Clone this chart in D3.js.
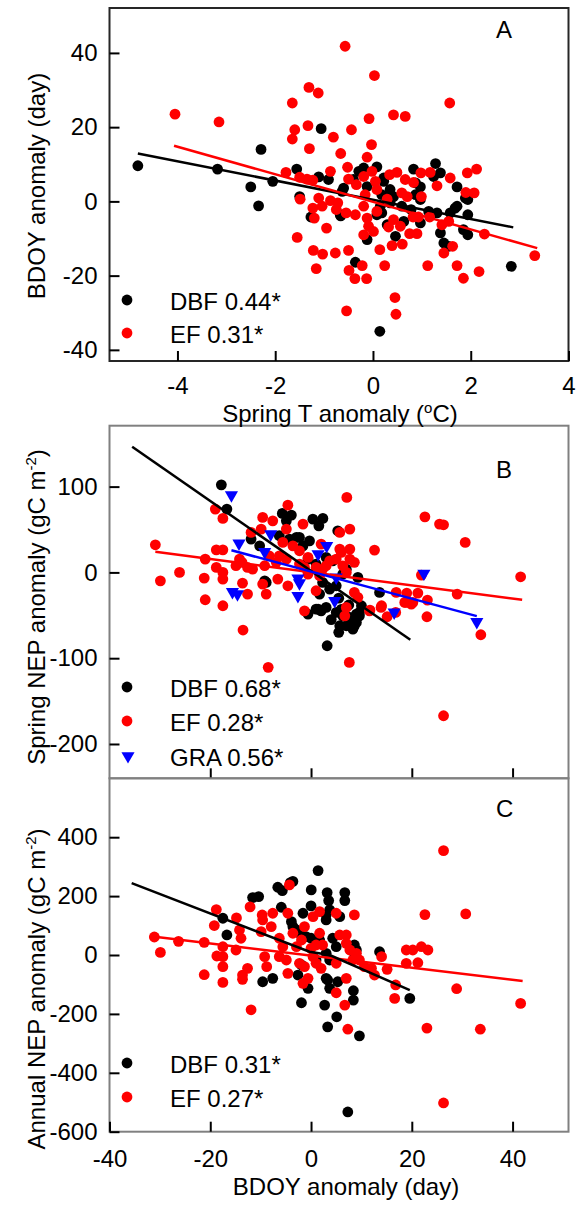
<!DOCTYPE html>
<meta charset="utf-8">
<style>
body { margin: 0; background: #fff; }
svg text { font-family: "Liberation Sans", Arial, sans-serif; font-size: 24px; fill: #000; }
.frame { fill: none; stroke: #808080; stroke-width: 2px; }
.axis path { display: none; }
.axis line { stroke: #000; stroke-width: 2px; }
.axis text { font-family: "Liberation Sans", Arial, sans-serif; font-size: 24px; }
.fit { fill: none; stroke-width: 2.5px; }
</style>
<body>
<svg width="576" height="1207"></svg>

<script src="https://cdnjs.cloudflare.com/ajax/libs/d3/7.8.5/d3.min.js"></script>
<script>

// ---- panel A : BDOY anomaly vs spring T anomaly ----
var aDbf = [[-4.81,9.6],[-3.18,8.7],[-2.29,14.0],[-2.50,3.9],[-2.34,-1.2],[-2.05,5.4],[-1.06,19.6],[-1.56,8.7],
  [-1.50,1.3],[-1.27,-4.2],[-1.11,6.6],[-0.91,5.9],[-0.67,-3.6],[-0.60,3.6],[-0.29,8.1],[-0.19,9.0],[0.08,9.3],
  [-0.40,5.9],[-0.12,4.0],[0.22,5.4],[0.35,3.2],[0.42,1.3],[0.18,1.8],[0.15,-1.3],[0.35,-0.4],[0.59,-1.3],
  [0.78,-2.2],[0.87,1.8],[0.83,8.7],[1.28,10.2],[1.24,6.7],[0.97,-5.8],[1.14,-2.7],[1.38,-8.5],[1.45,-11.2],
  [1.55,-12.1],[1.72,3.9],[1.72,-1.3],[1.58,-3.1],[1.94,0.5],[1.94,-3.6],[1.94,-9.0],[2.83,-17.5],[0.14,-35.0],
  [-0.36,-16.4],[0.46,-9.4],[-0.12,-10.3],[0.08,-3.6],[0.63,-5.4],[0.97,3.9],[-0.63,2.7],[-0.66,-3.9],[0.22,6.3],
  [0.18,-3.1],[0.29,-6.3],[0.87,5.0],[0.97,0.5],[1.38,7.7],[1.31,-3.1],[1.68,-1.8],[1.89,0.9],[1.85,-7.6]];
var aEf = [[-0.57,41.8],[0.03,33.9],[-1.31,30.7],[-1.12,29.2],[-1.65,26.5],[-4.05,23.5],[-3.15,21.4],[-1.60,19.3],
  [-1.65,16.8],[-1.33,20.4],[-1.30,14.2],[-0.81,17.3],[-0.44,19.3],[-0.08,22.3],[0.42,23.3],[-0.66,12.9],
  [-0.03,15.3],[-0.12,11.9],[-0.52,9.2],[-1.78,7.8],[-0.87,8.1],[0.66,22.9],[1.57,26.5],[2.12,8.7],[1.93,7.7],
  [1.58,6.3],[1.31,4.2],[0.98,7.7],[1.17,7.8],[1.90,2.4],[0.99,1.3],[2.28,-8.8],[3.31,-14.6],[1.63,-12.1],
  [1.45,-13.9],[1.72,-17.3],[1.85,-20.7],[2.17,-18.9],[1.12,-17.3],[0.45,-25.9],[0.47,-30.4],[-0.54,-29.5],
  [0.24,-17.3],[-0.22,-17.3],[-0.49,-18.6],[-0.37,-20.8],[-0.13,-20.8],[0.14,-13.0],[-0.50,-13.2],[-0.77,-13.9],
  [-1.03,-14.2],[-1.22,-13.2],[-1.16,-18.1],[-1.55,-9.7],[-0.95,-7.2],[0.39,-11.9],[0.60,-11.5],[2.07,2.3],
  [-1.50,6.5],[-1.35,6.0],[-1.23,5.7],[-1.49,0.6],[-1.11,0.9],[-1.04,-1.3],[-1.23,-1.8],[-1.20,-4.5],[-0.87,0.2],
  [-0.72,-0.4],[-0.75,-2.2],[-0.55,-3.1],[-0.36,-3.6],[-0.50,6.0],[-0.34,4.5],[-0.19,6.7],[-0.02,8.1],[0.05,5.4],
  [0.08,3.2],[-0.16,1.8],[-0.19,-1.3],[-0.12,-4.5],[0.08,-2.7],[-0.09,-6.7],[-0.19,-9.0],[0.01,-8.1],[0.32,-6.9],
  [0.34,7.2],[0.49,7.8],[0.66,5.9],[0.83,5.1],[0.59,2.3],[0.70,1.3],[0.29,0.6],[0.42,-4.9],[0.56,-6.7],[0.82,-4.2],
  [0.93,-4.2],[0.75,-8.7],[0.90,-8.7],[1.16,-4.2],[1.41,-6.3],[1.55,-5.4]];
var aFitDbf = [[-4.81,12.9],[2.87,-7.0]];
var aFitEf = [[-4.07,15.0],[3.36,-12.6]];
var aYTicks = [-40,-20,0,20,40];
var aXTicks = [-4,-2,0,2,4];

// ---- panel B : spring NEP anomaly vs BDOY anomaly ----
var bDbf = [[-17.8,102.1],[-16.7,73.8],[3.2,-85.5],[-5.7,68.8],[-3.9,66.8],[0.36,62.1],[2.35,62.9],[1.55,54.3],
  [5.3,48.5],[-11.9,38.8],[-10.2,31.0],[-9.2,-9.8],[-6.3,42.7],[-4.3,38.8],[-2.9,40.8],[-1.6,31.0],[-0.3,36.8],
  [3.0,17.5],[4.3,13.5],[6.3,-2.0],[7.0,3.8],[9.3,-5.8],[13.6,-23.3],[2.3,-11.7],[3.7,-19.5],[5.0,-15.6],
  [1.7,-25.3],[1.0,-42.8],[2.0,-44.8],[3.0,-40.8],[-0.6,-48.6],[5.0,-46.6],[6.3,-50.6],[7.7,-52.4],[9.0,-48.6],
  [5.7,-62.2],[7.0,-62.2],[8.6,-62.2],[5.5,-69.9],[8.3,-54.4],[9.6,-50.6],[10.0,-38.9],[8.4,-64],[-0.6,15.5],
  [1.0,9.7],[-4.9,60.1],[-2.3,40.8],[-8.9,-11.7],[1.4,-42.8],[8.3,-66.1],[9.0,-58.3],[9.6,-46.6],[5.5,-30],
  [7.5,-38],[6.0,-43],[4.0,-55]];
var bEf = [[-30.9,32.2],[-29.9,-9.8],[-26.1,0],[-21.0,15.5],[-21.2,-6.6],[-21.0,-31.9],[-19.0,73.8],[-17.5,62.9],
  [-17.5,-38.9],[-13.5,-67.2],[-8.5,-110.7],[7.1,87.4],[7.6,-104.9],[12.6,26.0],[22.6,64.8],[26.3,55.5],[30.6,35.0],
  [41.6,-5.1],[33.7,-72.7],[26.3,-167.1],[29.0,-25.3],[23.1,-32.3],[23.0,-51.7],[21.9,-3.1],[21.2,-24.1],
  [19.0,-24.1],[16.9,-23.3],[18.8,-35.0],[20.2,-35.0],[13.9,-40.8],[15.1,-51.7],[16.8,-46.6],[11.7,-43.9],
  [-4.6,78.4],[-9.6,64.1],[-7.6,60.1],[-1.6,56.3],[-4.9,50.5],[-9.9,50.5],[-11.9,46.6],[5.7,46.6],[7.7,50.5],
  [7.7,27.2],[5.7,27.2],[-18.8,26.3],[-17.5,26.3],[-18.8,5.8],[-17.5,0],[-17.5,-7.8],[-13.6,-12.5],[-12.6,-25.3],
  [-14.9,7.8],[-14.2,15.5],[-12.6,5.8],[-11.6,3.8],[-9.6,-13.6],[-8.9,-25.3],[-9.2,7.8],[-6.9,11.7],[-8.3,19.3],
  [-6.6,-7.8],[-4.6,-15.6],[-5.6,35.0],[-3.6,31.0],[-2.3,25.2],[-6.3,19.3],[-4.9,15.5],[-0.6,17.5],[-1.3,5.8],
  [1.0,5.8],[2.3,3.8],[1.0,-21.4],[-1.3,-44.8],[2.0,33.0],[3.7,13.5],[5.0,15.5],[6.0,23.3],[7.7,15.5],[8.6,11.7],
  [6.3,7.7],[7.0,0],[7.0,-40.8],[6.7,-50.6],[8.6,-23.3],[9.3,-29.1],[11.6,-44.8],[14.0,-38.9],[18.6,-35],
  [19.9,-36.9],[25.5,56.3],[-2.3,9.7],[-0.6,-2.0],[1.7,-3.9],[3.0,7.7],[-13.7,11.7]];
var bGra = [[-15.8,90.1],[-14.3,33.8],[-8.0,44.6],[-9.2,24.0],[-15.6,-22.6],[-14.6,-25.3],[3.1,31.0],[1.4,21.3],
  [-2.6,-7.0],[-2.3,-12.5],[-2.6,-27.3],[4.7,-33.1],[5.0,-5.8],[16.5,-46.6],[22.4,-1.2],[32.9,-57.6]];
var bFitDbf = [[-35.5,146.4],[19.7,-78.6]];
var bFitEf = [[-30.9,24.0],[41.9,-31.9]];
var bFitGra = [[-15.8,25.8],[32.9,-51.0]];
var bYTicks = [-200,-100,0,100];
var bXTicks = [-20,0,20,40];

// ---- panel C : annual NEP anomaly vs BDOY anomaly ----
var cDbf = [[1.4,286.7],[-4.1,246],[-3.6,250],[-6.6,230],[-5.7,218.7],[-11.6,195],[-10.4,198.4],[0.04,221],[3.2,212],
  [3.5,184.7],[6.7,212],[6.7,184.7],[0,166.7],[-5.9,162.2],[-1.6,141.8],[3.0,136],[3.7,153],[5.7,130.3],
  [-17.5,124.8],[-16.7,68],[-3.9,113.3],[-3.6,96.3],[-2.3,73.8],[-1.0,62.2],[8.6,34],[13.6,11.2],[-9.6,-90.8],
  [-7.6,-79.3],[-2.6,-68],[-0.6,-113.3],[3.3,-85],[3.7,-113.3],[-1.9,-162.2],[2.7,-170],[5.1,-209.8],[3.3,-243.9],
  [8.4,-121.4],[8.4,-153],[19.6,-147.3],[8.6,5.8],[7.3,-533],[9.6,-274.5],[3.0,119],[-2.9,85],[0,56.8],[1.7,51],
  [4.3,56.8],[5.0,28.2],[9.0,17],[3.0,5.8],[3.7,-17],[1.0,-17],[-1.9,-34],[3.0,-79.3],[5.3,-90.8]];
var cEf = [[26.3,354.4],[22.6,137.1],[30.7,139.5],[-31.1,61.2],[-29.9,8.8],[-26.3,46.3],[-21.2,42.9],[-21.2,-66.9],
  [-17.5,-93.1],[-11.9,-186],[-18.8,154.4],[-19.2,100],[-14.8,126],[-12.1,163.4],[28.9,-114.5],[33.6,-252],
  [23.0,-248.3],[7.3,-252],[6.7,-170],[16.6,-147.3],[5.0,-128.2],[18.9,17],[20.2,17],[21.9,28.2],[23.2,17],
  [18.9,-28.3],[21.2,-26.2],[14.0,-5.7],[15.1,-48.6],[16.8,-101.7],[12.6,-68],[8.6,136.1],[26.3,-502.4],[41.6,-164.3],
  [-17.5,28.2],[-17.5,-5.7],[-17.5,-39.7],[-18.7,-3.4],[-14.2,85],[-13.9,56.8],[-14.9,17],[-12.6,-45.2],[-13.6,-68],
  [-13.6,-82.7],[-9.7,136],[-9.6,119],[-9.9,79.3],[-9.2,-5.7],[-8.8,-39.7],[-7.9,96.3],[-7.6,141.8],[-6.3,56.8],
  [-5.6,28.2],[-4.6,141.8],[-4.3,238],[-6.3,-5.7],[-4.9,-17],[-4.6,-62.2],[-2.9,28.2],[-1.9,51],[-3.6,73.8],
  [-2.3,-28.2],[-1.3,-39.7],[-1.3,96.3],[0.4,130.3],[0,22.7],[0.4,-5.7],[-1.6,-96.3],[-0.6,-79.3],[1.7,147.3],
  [1.7,73.8],[1.0,34],[2.3,34],[1.0,-28.2],[2.0,-45.2],[5.0,141.8],[5.7,68],[7.0,68],[7.0,39.7],[5.0,-28.2],
  [7.7,17],[9.0,5.7],[8.3,-17],[9.6,-17],[10.6,-39.7],[12.0,-45.2],[7.0,-79.3]];
var cFitDbf = [[-35.6,244],[-0.3,11],[3.7,0],[19.6,-119]];
var cFitEf = [[-31,62],[42,-88]];
var cYTicks = [-600,-400,-200,0,200,400];
var cXTicks = [-40,-20,0,20,40];

var black = "#000000", red = "#ff0000", blue = "#0000ff";
var left = 109.5, right = 568.5;
var fmt = function(d) { return String(d); };

var svg = d3.select("svg");

function drawPanel(p) {
  var x = d3.scaleLinear().domain(p.xDomain).range([left, right]);
  var y = d3.scaleLinear().domain(p.yDomain).range([p.bottom, p.top]);
  var g = svg.append("g");

  g.append("rect")
    .attr("class", "frame")
    .style("stroke", p.frameColor)
    .attr("x", left).attr("y", p.top)
    .attr("width", right - left).attr("height", p.bottom - p.top);

  g.append("g")
    .attr("class", "axis")
    .attr("transform", "translate(" + left + ",0)")
    .call(d3.axisLeft(y).tickValues(p.yTicks).tickSize(-10).tickPadding(12).tickFormat(fmt));

  g.append("g")
    .attr("class", "axis")
    .attr("transform", "translate(0," + p.bottom + ")")
    .call(d3.axisBottom(x).tickValues(p.xTicks).tickSize(-10).tickPadding(p.xPad)
      .tickFormat(p.xLabels ? fmt : function() { return ""; }));

  // points
  p.series.forEach(function(s) {
    if (s.shape === "tri") {
      g.selectAll(null).data(s.data).enter()
        .append("path")
        .attr("d", d3.symbol(d3.symbolTriangle, 75))
        .attr("transform", function(d) { return "translate(" + x(d[0]) + "," + y(d[1]) + ") rotate(180)"; })
        .attr("fill", s.color);
    } else {
      g.selectAll(null).data(s.data).enter()
        .append("circle")
        .attr("cx", function(d) { return x(d[0]); })
        .attr("cy", function(d) { return y(d[1]); })
        .attr("r", 5.4)
        .attr("fill", s.color);
    }
  });

  // fitted lines
  var line = d3.line().x(function(d) { return x(d[0]); }).y(function(d) { return y(d[1]); });
  p.fits.forEach(function(f) {
    g.append("path").datum(f.data)
      .attr("class", "fit")
      .attr("stroke", f.color)
      .attr("d", line);
  });

  // legend
  p.legend.forEach(function(l) {
    if (l.shape === "tri") {
      g.append("path")
        .attr("d", d3.symbol(d3.symbolTriangle, 75))
        .attr("transform", "translate(128," + l.y + ") rotate(180)")
        .attr("fill", l.color);
    } else {
      g.append("circle").attr("cx", 127).attr("cy", l.y).attr("r", 5.4).attr("fill", l.color);
    }
    g.append("text").attr("x", 170).attr("y", l.y + 10).text(l.text);
  });

  g.append("text").attr("x", 496).attr("y", p.tagY).text(p.tag);
}

drawPanel({
  top: 8, bottom: 361, xDomain: [-5.39, 4], yDomain: [-43, 52.1], frameColor: "#262626",
  xTicks: aXTicks, yTicks: aYTicks, xLabels: true, xPad: 16,
  series: [{data: aDbf, color: black}, {data: aEf, color: red}],
  fits: [{data: aFitDbf, color: black}, {data: aFitEf, color: red}],
  legend: [{text: "DBF 0.44*", color: black, y: 300}, {text: "EF 0.31*", color: red, y: 333}],
  tag: "A", tagY: 38
});

drawPanel({
  top: 425.7, bottom: 778.3, xDomain: [-40, 51.1], yDomain: [-240, 171], frameColor: "#808080",
  xTicks: bXTicks, yTicks: bYTicks, xLabels: false, xPad: 18,
  series: [{data: bDbf, color: black}, {data: bEf, color: red}, {data: bGra, color: blue, shape: "tri"}],
  fits: [{data: bFitDbf, color: black}, {data: bFitEf, color: red}, {data: bFitGra, color: blue}],
  legend: [{text: "DBF 0.68*", color: black, y: 687}, {text: "EF 0.28*", color: red, y: 721},
           {text: "GRA 0.56*", color: blue, y: 756, shape: "tri"}],
  tag: "B", tagY: 478
});

drawPanel({
  top: 778.3, bottom: 1131.7, xDomain: [-40, 51.1], yDomain: [-600, 600], frameColor: "#808080",
  xTicks: cXTicks, yTicks: cYTicks, xLabels: true, xPad: 18,
  series: [{data: cDbf, color: black}, {data: cEf, color: red}],
  fits: [{data: cFitEf, color: red}, {data: cFitDbf, color: black}],
  legend: [{text: "DBF 0.31*", color: black, y: 1063}, {text: "EF 0.27*", color: red, y: 1097}],
  tag: "C", tagY: 817
});

// axis titles
svg.append("text").attr("transform", "translate(45,186) rotate(-90)")
  .attr("text-anchor", "middle").text("BDOY anomaly (day)");

var tB = svg.append("text").attr("transform", "translate(45,607) rotate(-90)").attr("text-anchor", "middle");
tB.append("tspan").text("Spring NEP anomaly (gC m");
tB.append("tspan").attr("dy", -9).style("font-size", "15px").text("-2");
tB.append("tspan").attr("dy", 9).text(")");

var tC = svg.append("text").attr("transform", "translate(45,989) rotate(-90)").attr("text-anchor", "middle");
tC.append("tspan").text("Annual NEP anomaly (gC m");
tC.append("tspan").attr("dy", -9).style("font-size", "15px").text("-2");
tC.append("tspan").attr("dy", 9).text(")");

var tA = svg.append("text").attr("x", 340).attr("y", 422).attr("text-anchor", "middle");
tA.append("tspan").text("Spring T anomaly (");
tA.append("tspan").attr("dy", -9).style("font-size", "15px").text("o");
tA.append("tspan").attr("dy", 9).text("C)");

svg.append("text").attr("x", 346).attr("y", 1195).attr("text-anchor", "middle").text("BDOY anomaly (day)");

</script>
</body>
